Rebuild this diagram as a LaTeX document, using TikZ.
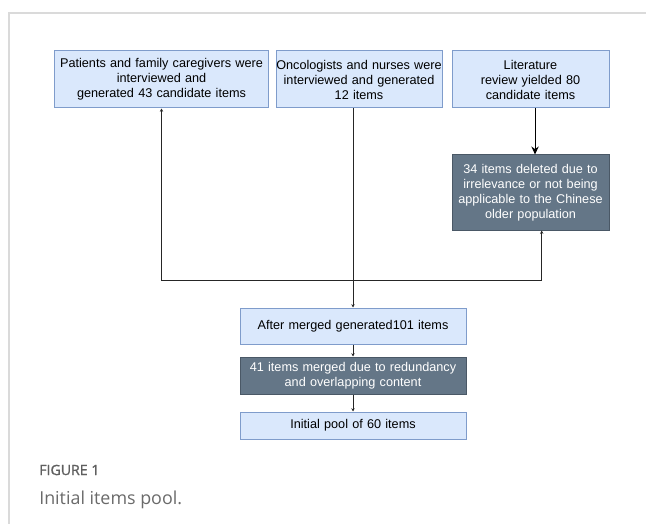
\documentclass[tikz,border=0pt]{standalone}
\usepackage{fontspec}
\setmainfont{Liberation Sans}
\newfontfamily\capfont{Open Sans}
\newfontfamily\caplabelfont[FakeBold=1.2]{Open Sans}
\usepackage{tikz}
\usetikzlibrary{positioning}
\usetikzlibrary{arrows.meta}
\definecolor{boxblue}{HTML}{DAE8FC}
\definecolor{boxblueline}{HTML}{7F9CCB}
\definecolor{boxdark}{HTML}{647687}
\definecolor{boxdarkline}{HTML}{4A5866}
\definecolor{framegray}{HTML}{DADADA}
\definecolor{capgray}{HTML}{6A6A6A}
\tikzset{
  stepnode/.style = {align=center, inner sep=0pt, text centered,
    font=\fontsize{9.5}{11.25}\selectfont},
  lightbox/.style = {stepnode, rectangle, fill=boxblue, draw=boxblueline, line width=0.75pt},% step box, light
  darkbox/.style = {stepnode, rectangle, fill=boxdark, draw=boxdarkline, text=white, line width=0.75pt},% removal box, dark
  link/.style = {draw=black!85, line width=0.75pt, -{Stealth[length=2.5pt,width=2.5pt]}},
}

\begin{document}
\begin{tikzpicture}[x=0.75pt,y=-0.75pt,>={Stealth[length=6pt,width=5.5pt]}]
\useasboundingbox (0,0) rectangle (646,524);
% frame of the figure
\draw[framegray, line width=1pt] (9,524) -- (9,13) -- (646,13);

% sources
\node [lightbox, text width=161pt, minimum height=42.75pt] (pat) at (161.5,79.5)
  {Patients and family caregivers were\\ interviewed and\\ generated 43 candidate items};
\node [lightbox, text width=124.5pt, minimum height=42.75pt] (onc) at (359,79.5)
  {Oncologists and nurses were\\ interviewed and generated\\ 12 items};
\node [lightbox, text width=117.75pt, minimum height=42.75pt] (lit) at (530.5,79.5)
  {Literature\\ review yielded 80\\ candidate items};
\node [darkbox, text width=117.75pt, minimum height=56.25pt] (del) at (530.5,192.5)
  {34 items deleted due to\\ irrelevance or not being\\ applicable to the Chinese\\ older population};

% pool
\node [lightbox, text width=169.5pt, minimum height=27pt] (merged) at (353,326)
  {After merged generated101 items};
\node [darkbox, text width=169.5pt, minimum height=27.75pt] (redund) at (353,375.5)
  {41 items merged due to redundancy\\ and overlapping content};
\node [lightbox, text width=169.5pt, minimum height=20.25pt] (pool) at (353,425.5)
  {Initial pool of 60 items};

% caption
\node [anchor=west, inner sep=0pt, text=capgray!90!black, font=\caplabelfont\fontsize{10.6}{12}\selectfont] (figlabel) at (39,470) {FIGURE 1};
\node [anchor=west, inner sep=0pt, text=capgray, font=\capfont\fontsize{13.4}{16}\selectfont] (figtitle) at (39,500) {Initial items pool.};

% connectors
\coordinate (hub) at (352,280);
\draw[->, line width=0.75pt] ([xshift=3.4pt]lit.south) -- ([xshift=3.4pt]del.north);
\draw[link] (hub) -| (pat.south);
\draw[link] (hub) -| ([xshift=8.4pt]del.south);
\draw[link] (merged.north |- onc.south) -- (merged.north);
\draw[link] (merged.south) -- (redund.north);
\draw[link] (redund.south) -- (pool.north);
\end{tikzpicture}
\end{document}
